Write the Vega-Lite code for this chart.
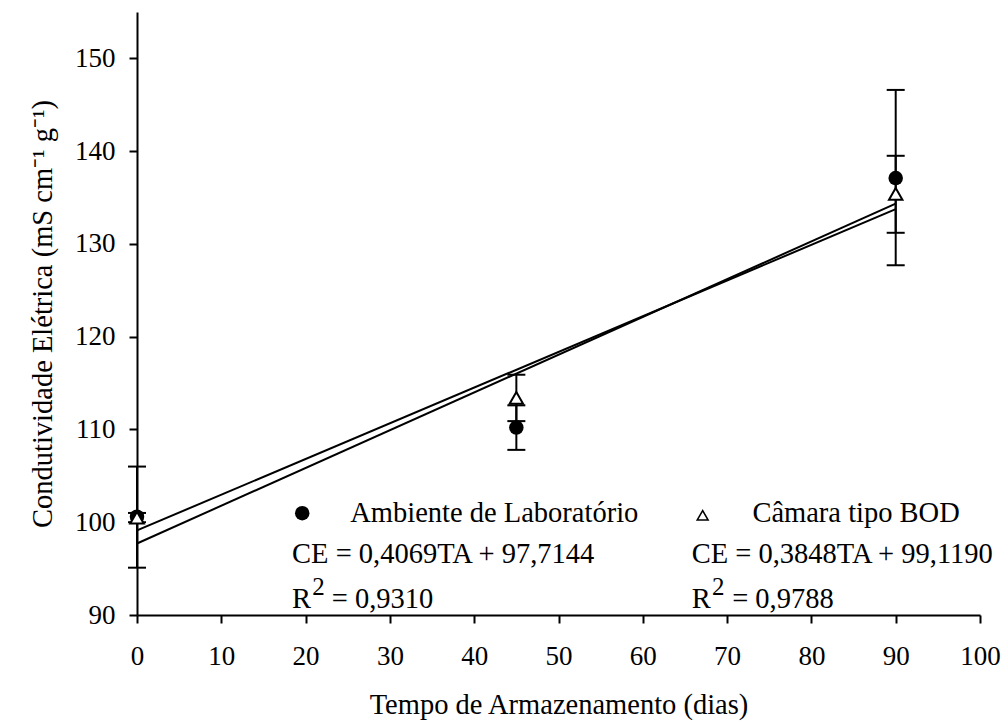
{
  "$schema": "https://vega.github.io/schema/vega-lite/v6.json",
  "width": 843,
  "height": 603,
  "autosize": {"type": "none"},
  "padding": {"left": 137, "top": 12, "right": 23, "bottom": 112},
  "background": "white",
  "config": {
    "view": {"stroke": null},
    "axis": {
      "grid": false,
      "domainColor": "black",
      "domainWidth": 2,
      "tickColor": "black",
      "tickWidth": 2,
      "tickSize": 8,
      "labelColor": "black",
      "labelFont": "Liberation Serif",
      "labelFontSize": 27,
      "labelFlush": false,
      "titleColor": "black",
      "titleFont": "Liberation Serif",
      "titleFontSize": 28.5,
      "titleFontWeight": "normal"
    },
    "text": {"font": "Liberation Serif", "fontSize": 28.5, "color": "black"}
  },
  "datasets": {
    "points": [
      {"series": "Ambiente de Laboratório", "x": 0, "y": 100.6, "lo": 95.1, "hi": 106.0},
      {"series": "Ambiente de Laboratório", "x": 45, "y": 110.2, "lo": 107.8, "hi": 112.6},
      {"series": "Ambiente de Laboratório", "x": 90, "y": 137.1, "lo": 127.7, "hi": 146.6},
      {"series": "Câmara tipo BOD", "x": 0, "y": 100.5, "lo": 100.0, "hi": 101.0},
      {"series": "Câmara tipo BOD", "x": 45, "y": 113.4, "lo": 110.9, "hi": 115.9},
      {"series": "Câmara tipo BOD", "x": 90, "y": 135.4, "lo": 131.2, "hi": 139.5}
    ],
    "fits": [
      {"series": "Ambiente de Laboratório", "x": 0, "y": 97.71},
      {"series": "Ambiente de Laboratório", "x": 90, "y": 134.34},
      {"series": "Câmara tipo BOD", "x": 0, "y": 99.12},
      {"series": "Câmara tipo BOD", "x": 90, "y": 133.75}
    ],
    "legendSymbols": [
      {"series": "Ambiente de Laboratório", "x": 19.6, "y": 100.97},
      {"series": "Câmara tipo BOD", "x": 67.1, "y": 100.75}
    ],
    "texts": [
      {"x": 25.3, "y": 100.0, "text": "Ambiente de Laboratório"},
      {"x": 18.4, "y": 95.6, "text": "CE = 0,4069TA + 97,7144"},
      {"x": 18.4, "y": 90.75, "text": "R"},
      {"x": 23.1, "y": 90.75, "text": "= 0,9310"},
      {"x": 73.0, "y": 100.0, "text": "Câmara tipo BOD"},
      {"x": 65.8, "y": 95.6, "text": "CE = 0,3848TA + 99,1190"},
      {"x": 65.8, "y": 90.75, "text": "R"},
      {"x": 70.6, "y": 90.75, "text": "= 0,9788"}
    ],
    "sups": [
      {"x": 20.8, "y": 92.15, "text": "2"},
      {"x": 68.2, "y": 92.15, "text": "2"}
    ]
  },
  "encoding": {
    "x": {
      "field": "x",
      "type": "quantitative",
      "scale": {"domain": [0, 100], "nice": false},
      "axis": {"values": [0, 10, 20, 30, 40, 50, 60, 70, 80, 90, 100], "labelPadding": 20, "title": "Tempo de Armazenamento (dias)", "titlePadding": 21}
    },
    "y": {
      "field": "y",
      "type": "quantitative",
      "scale": {"domain": [90, 155], "nice": false, "zero": false},
      "axis": {"values": [90, 100, 110, 120, 130, 140, 150], "labelPadding": 14, "title": "Condutividade Elétrica (mS cm⁻¹ g⁻¹)", "titlePadding": 17}
    }
  },
  "layer": [
    {
      "data": {"name": "fits"},
      "mark": {"type": "line", "color": "black", "strokeWidth": 2, "clip": false},
      "encoding": {"detail": {"field": "series"}}
    },
    {
      "data": {"name": "points"},
      "mark": {"type": "rule", "color": "black", "strokeWidth": 2, "clip": false},
      "encoding": {"y": {"field": "lo", "type": "quantitative"}, "y2": {"field": "hi"}}
    },
    {
      "data": {"name": "points"},
      "mark": {"type": "tick", "orient": "horizontal", "color": "black", "size": 18, "thickness": 2, "opacity": 1, "clip": false},
      "encoding": {"y": {"field": "lo", "type": "quantitative"}}
    },
    {
      "data": {"name": "points"},
      "mark": {"type": "tick", "orient": "horizontal", "color": "black", "size": 18, "thickness": 2, "opacity": 1, "clip": false},
      "encoding": {"y": {"field": "hi", "type": "quantitative"}}
    },
    {
      "data": {"name": "points"},
      "transform": [{"filter": "datum.series === 'Ambiente de Laboratório'"}],
      "mark": {"type": "point", "shape": "circle", "filled": true, "color": "black", "size": 210, "opacity": 1, "clip": false}
    },
    {
      "data": {"name": "points"},
      "transform": [{"filter": "datum.series === 'Câmara tipo BOD'"}],
      "mark": {"type": "point", "shape": "triangle-up", "fill": "white", "stroke": "black", "strokeWidth": 2, "size": 180, "opacity": 1, "fillOpacity": 1, "clip": false}
    },
    {
      "data": {"name": "legendSymbols"},
      "transform": [{"filter": "datum.series === 'Ambiente de Laboratório'"}],
      "mark": {"type": "point", "shape": "circle", "filled": true, "color": "black", "size": 210, "opacity": 1}
    },
    {
      "data": {"name": "legendSymbols"},
      "transform": [{"filter": "datum.series === 'Câmara tipo BOD'"}],
      "mark": {"type": "point", "shape": "triangle-up", "fill": "white", "stroke": "black", "strokeWidth": 1.5, "size": 120, "opacity": 1, "fillOpacity": 1}
    },
    {
      "data": {"name": "texts"},
      "mark": {"type": "text", "align": "left", "baseline": "alphabetic", "fontSize": 28.5},
      "encoding": {"text": {"field": "text"}}
    },
    {
      "data": {"name": "sups"},
      "mark": {"type": "text", "align": "left", "baseline": "alphabetic", "fontSize": 25},
      "encoding": {"text": {"field": "text"}}
    }
  ]
}
